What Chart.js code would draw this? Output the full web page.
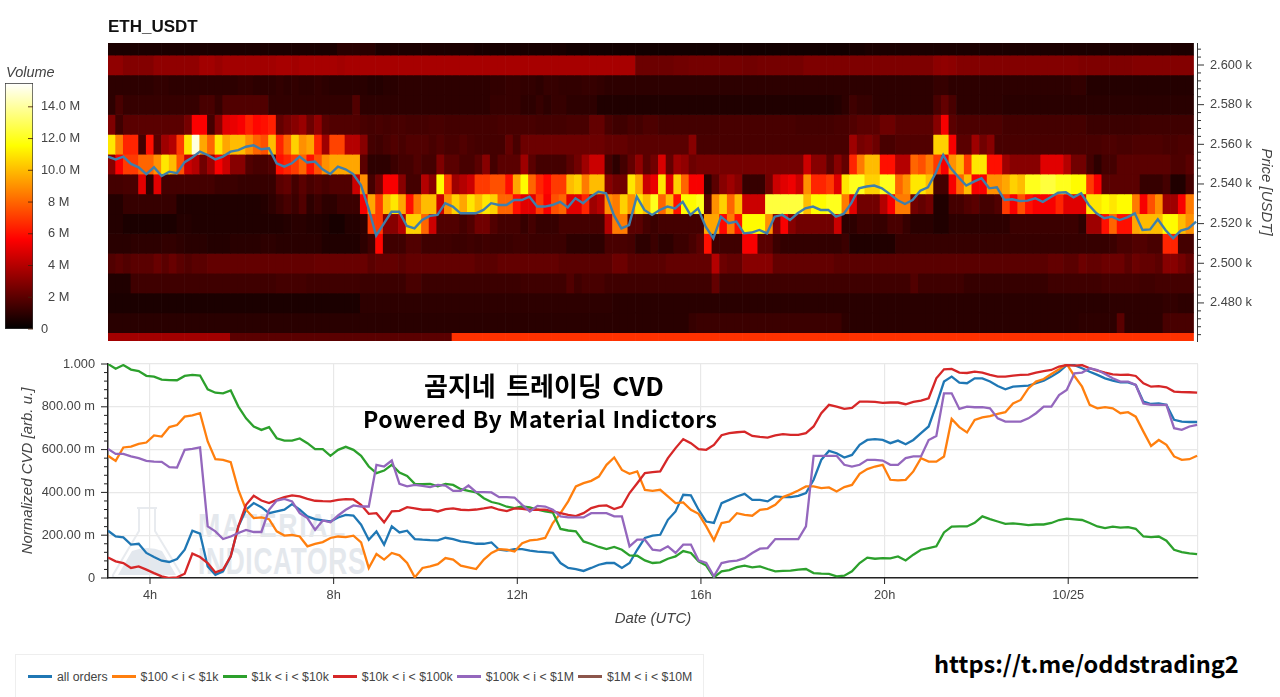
<!DOCTYPE html>
<html>
<head>
<meta charset="utf-8">
<title>ETH_USDT</title>
<script src="https://cdn.jsdelivr.net/npm/chart.js@4"></script>
<style>
html, body { margin: 0; padding: 0; background: #fff; }
#page { position: relative; width: 1280px; height: 697px; overflow: hidden; font-family: "Liberation Sans", Arial, sans-serif; color: #444; }
canvas { position: absolute; }
.label { position: absolute; white-space: nowrap; }
#pairTitle { left: 108px; top: 17px; font-size: 17px; font-weight: bold; color: #111; }
#volumeTitle { left: 6px; top: 64px; font-size: 14.5px; font-style: italic; }
#overlayA { left: 424px; top: 366px; font: bold 26px "Noto Sans CJK KR"; color: #000; word-spacing: 4.5px; }
#overlayB { left: 363px; top: 401px; font: bold 23px "Noto Sans CJK KR"; color: #000; word-spacing: 1px; letter-spacing: .46px; }
#telegram { left: 934px; top: 646px; font: bold 23.6px "Noto Sans CJK KR"; color: #000; }
.wm { position: absolute; font-family: "Liberation Sans"; font-weight: bold; color: #e4e8ed; white-space: nowrap; transform-origin: left top; }
#legendBox { position: absolute; left: 15px; top: 654px; height: 43px; border: 1px solid #eee; border-bottom: none; display: flex; align-items: center; padding-left: 12px; box-sizing: content-box; font-size: 12.3px; width: 675px; }
#legendBox .swatch { width: 24px; height: 3px; margin-right: 5px; flex: none; }
#legendBox .name { margin-right: 4px; white-space: nowrap; }
</style>
</head>
<body>
<div id="page">
  <svg style="position:absolute;left:108px;top:505px" width="80" height="75">
    <path d="M29 3 H49 M31 3 V26 L5 70 Q4 73 9 73 H70 Q75 73 73 69 L47 26 V3" fill="none" stroke="#e8ebef" stroke-width="2"/>
    <path d="M10 70 L24 46 Q40 40 54 46 L68 70 Z" fill="#e3e8ee"/>
  </svg>
  <div class="wm" style="left:198px;top:507px;font-size:33px;letter-spacing:2px;transform:scaleX(.81)">MATERIAL</div>
  <div class="wm" style="left:198px;top:541px;font-size:37px;letter-spacing:1px;transform:scaleX(.71)">INDICATORS</div>

  <canvas id="heatmap" style="left:0;top:0"></canvas>
  <canvas id="colorbar" style="left:0;top:60px"></canvas>
  <canvas id="cvd" style="left:0;top:350px"></canvas>

  <div class="label" id="pairTitle">ETH_USDT</div>
  <div class="label" id="volumeTitle">Volume</div>
  <div class="label" id="overlayA">곰지네 트레이딩 CVD</div>
  <div class="label" id="overlayB">Powered By Material Indictors</div>
  <div class="label" id="telegram">https://t.me/oddstrading2</div>
  <div id="legendBox"></div>
</div>

<script>
// Tick values
const priceTicks = [2480, 2500, 2520, 2540, 2560, 2580, 2600];
const volumeTicks = [0, 2, 4, 6, 8, 10, 12, 14];
const volumeTickLabels = ['0', '  2 M', '  4 M', '  6 M', '  8 M', '10.0 M', '12.0 M', '14.0 M'];
const hourTicks = [4, 8, 12, 16, 20, 24];
const hourTickLabels = ['4h', '8h', '12h', '16h', '20h', '10/25'];
const cvdTicks = [0, 200, 400, 600, 800, 1000];

const seriesNames = ['all orders', '$100 < i < $1k', '$1k < i < $10k', '$10k < i < $100k', '$100k < i < $1M', '$1M < i < $10M'];
const seriesColors = ['#1f77b4', '#ff7f0e', '#2ca02c', '#d62728', '#9467bd', '#8c564b'];

// Price line, one value per 10 minutes
const priceLine = [
  2553.8,2552.4,2553.8,2550.1,2548.4,2545,2548.4,2544,2546.2,2545.4,
  2551,2553.4,2556.3,2554.6,2552.4,2553.8,2556.3,2557.1,2558.8,2559.5,
  2557.5,2558,2550.4,2548.7,2550.4,2553.8,2550.8,2551.3,2547.4,2545,
  2548.7,2547.4,2545,2539.5,2527.7,2514,2520,2526,2526,2518.8,
  2517.6,2521.8,2523.9,2524.4,2530.3,2528.6,2525.2,2525.2,2525.2,2526.9,
  2530.3,2529.4,2529.4,2531.9,2531.9,2533.6,2528.6,2528.6,2529.4,2531,
  2528.2,2532.8,2530.3,2533.6,2536.1,2535.3,2524.4,2517.6,2519.3,2533.6,
  2526.9,2524.4,2526.9,2528.6,2527.7,2531,2524.4,2527.7,2518.5,2512.6,
  2523.5,2520.2,2521,2515.1,2515.5,2516.8,2515.1,2523.5,2524.4,2521.8,
  2525.2,2527.7,2528.6,2526.9,2526.9,2523.5,2524.9,2530.3,2537.8,2538.7,
  2539.2,2537.8,2535,2531.9,2529.9,2531.9,2536.6,2538.3,2545.4,2554.6,
  2547.9,2543.4,2539.2,2541.2,2542.9,2537.8,2538.3,2531.9,2532.3,2531.4,
  2531.6,2532.8,2531,2533.3,2535.6,2535.8,2533.3,2535.3,2529.4,2525.2,
  2522.7,2523.5,2521.8,2523.2,2525.2,2516.8,2517.1,2522.2,2516.8,2512.6,
  2516.5,2517.6,2521
];

// Normalized CVD (milli units), one value per 10 minutes
const cvdAll = [
  221,194,190,156,160,117,98,81,75,89,
  132,221,207,54,15,31,101,241,319,350,
  331,303,311,319,345,319,288,275,269,264,
  283,295,292,249,179,218,156,241,213,221,
  182,179,177,176,188,182,171,166,160,160,
  166,132,128,135,135,128,123,121,117,70,
  47,42,33,47,62,70,70,47,70,132,
  187,198,202,272,311,389,386,319,264,257,
  350,365,381,393,365,365,358,381,378,378,
  384,397,459,552,594,583,563,575,622,645,
  649,645,630,642,625,645,677,708,809,918,
  941,913,910,933,933,918,897,882,894,897,
  899,910,922,941,964,995,995,980,964,949,
  933,922,914,914,902,824,813,816,809,739,
  731,729,729
];
const cvd100to1k = [
  571,547,610,614,627,633,666,661,705,715,
  754,760,770,638,555,552,541,412,319,280,
  283,275,218,198,201,194,148,159,168,187,
  194,191,198,166,47,112,86,117,106,70,
  3,47,54,65,93,86,58,50,42,86,
  117,135,132,124,163,176,179,187,257,303,
  358,428,443,454,474,529,563,505,487,498,
  412,407,412,381,350,353,319,300,241,176,
  257,264,303,295,291,319,323,342,378,392,
  409,428,428,420,423,404,425,435,487,509,
  521,529,459,456,459,498,560,544,544,568,
  743,705,680,739,751,756,767,775,816,832,
  886,918,930,953,975,1000,944,894,809,793,
  798,793,770,775,754,684,617,645,622,568,
  552,555,571
];
const cvd1kto10k = [
  1000,978,995,974,967,945,941,927,925,924,
  944,949,946,882,866,863,876,801,746,708,
  692,705,653,642,642,652,630,602,602,571,
  599,613,599,571,521,490,502,529,493,477,
  440,439,440,428,440,435,415,407,400,373,
  355,347,333,327,334,330,319,311,306,229,
  222,218,171,159,145,135,145,132,106,104,
  82,70,73,90,101,126,117,78,58,3,
  31,37,51,58,50,54,42,31,33,34,
  39,42,23,20,19,8,11,31,70,95,
  90,93,92,101,82,109,132,140,148,213,
  240,241,241,258,288,275,264,253,255,252,
  247,250,250,257,271,277,274,271,257,241,
  233,240,235,238,230,194,191,194,174,132,
  121,115,112
];
const cvd10kto100k = [
  96,78,70,47,54,39,23,8,0,3,
  20,114,98,70,26,39,101,241,342,384,
  362,350,365,378,386,381,370,361,359,358,
  365,369,367,342,300,303,260,311,314,331,
  325,319,319,311,322,325,319,317,320,325,
  331,319,313,325,323,319,319,319,311,303,
  295,289,303,327,337,339,322,334,397,443,
  490,495,498,560,607,649,630,602,599,622,
  667,677,681,684,664,659,656,666,672,669,
  669,677,708,770,809,801,790,795,824,824,
  823,818,820,820,812,823,829,840,933,975,
  977,960,958,964,960,949,941,941,946,949,
  950,960,967,972,988,995,992,995,980,969,
  960,952,949,950,944,910,894,897,891,871,
  869,868,866
];
const cvd100kto1M = [
  603,580,580,568,560,547,544,543,518,516,
  599,603,610,241,218,182,194,210,225,215,
  215,319,362,370,358,303,280,225,269,260,
  292,319,339,334,334,529,521,549,440,428,
  435,431,425,435,432,407,407,432,401,401,
  400,378,378,376,342,311,337,334,319,288,
  283,283,283,303,303,303,288,288,148,179,
  179,132,128,148,117,156,156,82,70,8,
  70,78,81,93,117,137,140,182,182,182,
  182,241,571,571,571,571,529,521,529,552,
  552,549,529,529,560,568,568,645,664,863,
  863,790,801,798,798,793,746,731,731,731,
  746,770,801,801,855,879,956,960,980,972,
  953,933,918,918,902,816,809,809,809,700,
  692,708,715
];
const cvd1Mto10M = [];

// Heatmap volume (M) per price bin, 142 columns of 10 minutes, 20 per line
const vol2610 = [
  .6,.6,.6,.6,.6,.6,.6,.6,.6,.6,.6,.6,.6,.6,.6,.6,.6,.6,.6,.6,
  .6,.6,.6,.6,.6,.6,.6,.6,.6,.6,.9,.9,.9,.9,.9,.6,.6,.6,.6,.6,
  .6,.6,.6,.6,.6,.6,.6,.6,.5,.5,.5,.5,.5,.5,.5,.5,.5,.5,.5,.5,
  .4,.4,.4,.4,.4,.4,.4,.4,.4,.4,.4,.4,.4,.4,.4,.4,.4,.4,.4,.4,
  .4,.4,.4,.4,.4,.4,.4,.4,.4,.4,.4,.4,.4,.4,.4,.4,.4,.5,.5,.6,
  .6,.6,.6,.6,.6,.6,.6,.6,.6,.6,.6,.6,.6,.6,.6,.6,.6,.6,.6,.6,
  .6,.6,.6,.6,.6,.6,.6,.6,.6,.6,.6,.6,.6,.6,.6,.6,.6,.6,.6,.6,
  .6,.6
];
const vol2600 = [
  3.2,3.2,2.9,2.9,2.9,2.9,3.2,3.2,3.2,3.2,3.2,3.2,3.6,3.6,3.4,3.6,3.6,3.6,3.6,3.6,
  3.6,3.6,3.7,3.7,3.6,3.7,3.7,3.7,3.7,3.7,3.6,3.7,3.7,3.7,3.7,3.7,3.7,3.7,3.7,3.7,
  3.7,3.7,3.7,3.7,3.7,3.7,3.7,3.7,3.7,3.7,3.7,3.7,3.7,3.7,3.7,3.7,3.7,3.7,3.7,3.7,
  3.7,3.7,3.7,3.7,3.7,3.7,3.7,3.7,3.7,2.4,2.4,2.4,2.4,2.4,2.5,2.5,2.6,2.6,2.6,2.6,
  2.6,2.6,2.6,2.5,2.5,2.6,2.6,2.6,2.6,2.6,2.6,2.8,2.8,2.8,2.8,2.8,2.8,2.8,2.8,2.8,
  2.8,2.8,2.8,2.8,2.8,2.8,2.8,2.8,3.1,3.2,3.1,2.9,2.9,2.9,2.9,2.9,2.9,2.9,2.9,2.9,
  2.9,2.9,2.9,2.9,2.9,2.9,2.9,2.8,2.8,2.8,2.8,2.8,2.8,2.8,2.9,2.9,2.9,2.9,2.9,2.9,
  2.9,2.9
];
const vol2590 = [
  1,1,1,1,1,1,1.1,1.1,1,1,1,1,1,1,1,1,1,1.1,1.1,1,
  1,1,1.1,1,1.1,1,1,1.1,1,.9,.9,.9,.9,.9,.8,.8,.9,.9,1,1,
  1,1,1,1,1,1,1,1,1,1,1.1,1.1,1.2,1.2,1.1,1.1,1,1.2,1.2,1.1,
  1.1,1.1,1.2,1.2,1.1,1,1,1,1,1,1,1,1,1,1,1,1,1,1,1,
  1,1,1,1,1,1,1,1,1,1,1,1,1,1,1,1,1,1,1,1,
  1,1,1,1,1,1,1,1,1.2,1.2,1,1,1,1,1,1,1,1,1,1,
  1,1,1,1,1,1,1.1,1.1,.8,.8,.8,.8,.8,.8,.8,.8,.8,.8,.8,.8,
  .8,.8
];
const vol2580 = [
  1,1.6,1.2,1.2,1.2,1.2,1.2,1.2,1.2,1.2,1.2,1.2,1.6,1.6,1.2,1.8,1.8,1.8,1.8,1.8,
  1.8,1.1,1.1,1.1,1.1,1.1,1.1,1.1,1.1,1.1,1.1,1.1,1.8,1,1,1,1,1,1,1,
  1,1,1,1,1,1,1,1,1,1,1.2,1.2,1.2,1.2,1,1,1.2,1,1.2,1.2,
  1,1,1,1,.7,.7,.7,.7,.7,.7,.7,.7,.7,.7,.7,.7,.7,.7,.7,.7,
  .7,.7,.7,.7,.7,.7,.7,.7,.7,.7,.7,.7,.7,.7,.7,.8,1,1.4,1.2,1.2,
  1,1,1,1,1,1,1,1,1.6,2.2,1.6,1,1,1,1,1,1,.9,.9,.9,
  .9,.9,.9,.9,.9,.9,.9,.9,.9,.9,.9,.9,.9,.9,.9,.9,.9,.9,.9,.9,
  .9,.9
];
const vol2570 = [
  2.8,1.4,2,2,2,2,2,2,2,2,2.6,5.6,5.6,1.5,3,5,5.2,5.5,6.4,5.8,
  6,6.4,2.2,2.6,3,3.4,2.4,3.2,2,1.8,1.8,1.8,1.8,1.6,1.5,1.6,1.5,1.6,1.6,1.5,
  1.5,1.5,1.6,1.6,1.5,1.5,1.5,1.5,1.5,1.5,1.5,1.6,1.6,1.6,1.6,1.6,1.5,1.5,1.5,1.5,
  1.6,1.6,1.6,2.2,2.2,1.6,1.4,1.4,1.6,1.5,1.7,1.7,1.5,1.5,1.5,1.5,1.5,1.5,1.5,1.5,
  1.6,1.6,1.6,1.6,1.6,1.6,1.6,1.6,1.6,1.6,1.5,1.5,1.5,1.5,1.5,1.6,1.6,1.8,2,2,
  2,2.4,2.4,2,2,2,2,2,3,5.5,2,1.7,1.7,1.7,1.7,1.7,1.7,1.5,1.5,1.5,
  1.5,1.5,1.5,1.5,1.5,1.5,1.5,1.5,1.3,1.3,1.3,1.3,1.3,1.3,1.3,1.4,1.4,1.4,1.4,1.4,
  1.4,1.4
];
const vol2560 = [
  11,8.6,6.5,6.5,1.5,6,2,3.5,4,7,11,15,9.5,8,11,9.5,10,10,9,8,
  7.5,10,6.5,8,10.5,9,9.5,6.5,3.5,7.2,7.2,4,4,3,1.5,1.4,1.6,1.8,1.6,1.8,
  1.8,1.8,1.6,1.8,1.6,1.6,1.8,1.6,1.5,1.5,1.5,1.5,2.2,1.6,2.4,2.4,2.4,2.4,2.4,2.4,
  2.4,2.4,2.4,2.4,2.4,2.2,2.2,2.2,2,2,2,2,2,2,2,2,3,1.6,1.6,1.6,
  1.6,1.6,1.6,1.6,1.6,1.6,1.6,1.6,1.6,1.6,1.6,1.6,1.6,1.6,1.6,1.6,1.6,3.5,2.6,2.8,
  2.4,1.6,1.6,1.8,1.8,1.8,1.8,1.8,10.5,10.5,5.5,2,2,3.5,2.5,3,1.6,1.6,1.6,1.6,
  1.6,1.6,1.6,1.6,1.6,1.6,1.6,1.6,1.6,1.6,1.7,1.7,1.6,1.6,1.7,1.7,1.7,1.7,1.6,1.6,
  1.7,1.7
];
const vol2550 = [
  3,5.5,7,7,8,8,9,11,10,7.5,4.5,4,2.5,3.5,5.5,4.5,3,3,1.8,1.6,
  1.6,1.8,6,6.5,7,8,6,7.5,9,9.5,9.5,9.5,9.5,2,1,1,1,1.3,1.5,1.5,
  1.8,1.5,1.5,2.8,2,2,1.6,1.6,2,3,1.5,2,2,2,3.5,2,1.5,1.5,1.5,1.5,
  2,2.5,3.5,4.5,4.5,1.5,1,1.5,2.2,3.2,2,2.5,4.8,2.2,3.5,3.2,2.4,2.6,2.6,2.6,
  2.6,2.6,2.6,2.6,2.6,2.6,2.6,2.6,2.6,2.6,2.6,4.5,3,3,2,3,2.2,6.5,8.5,10,
  10,6,6,4,4,8,7.5,8.5,7,5.5,9,10,7,11,11,6,6,3.5,3,3,
  3,3,5,5,5,4,2.5,2.5,1.5,1,1.5,1.5,2,2,2,2,2,2,2,1.7,
  1.7,2
];
const vol2540 = [
  1.5,1.5,1.6,1.6,5,1,5,1.5,1.5,1.5,1.5,1.5,1.5,1.5,1.3,1.3,1.3,1.2,1.2,1.2,
  1.2,1.2,2,2.2,1.5,2,1.6,1.8,1.6,1.8,1.8,1.8,4.5,9,1.5,2.5,5.5,5.5,3,1.5,
  1.5,4,3,11.5,7,3.5,4,4.5,7,7,7.5,7.5,6,9.5,11.5,8,6.5,5.8,7,7,
  10,10.5,8.5,10,10,3,2.5,2.5,11,9.5,4.5,5.2,11,5,10.5,8,5.5,5.5,1,2,
  3,3.5,3,1.2,1.2,1.2,2.5,4.5,5,5.3,4.5,9,6.5,6.5,7,5,11,12,12,10.5,
  10.5,12,12,8,9,11,11,10,1.5,1.5,5.5,8,10,5.5,5.5,9,9,9.5,10.5,10,
  12,12,12.5,12.5,12,12,11.5,11.5,7,5.5,2,2,2,2,2,1.2,1.2,1.2,1.5,.7,
  .7,1.5
];
const vol2530 = [
  .8,.8,1.2,1.2,1.2,1.2,1.2,1.2,1.2,.7,.7,.7,.7,.7,.7,.7,.7,.7,.7,.7,
  .8,1,1.3,1.6,1.3,1.8,1,1.3,1,1,1.3,1.3,1.3,5.5,9.5,7,10,11,9.5,6,
  8.5,10,10,4.5,9,10.5,9.5,11,10,11,10.5,8,8,6,5,5,7,5.5,7.5,8,
  5,5,6.5,3.5,4,9,8.5,10.5,9,11,10,12,8,10,6,11.5,11.5,12,2,9,
  10.5,8,10,4.5,4.5,4.5,12.5,12.5,12.5,12.5,12.5,10,11.5,11.5,12,12,8.5,5,2.5,2.5,
  2.5,4,5.5,8.5,8.5,2.5,2.2,2.5,.7,.7,1.5,1.5,1.8,2,1.5,1.5,1.8,7,5.5,7.5,
  6,5.5,5.5,5.5,6.5,5,5,5,11,11,11.5,11,11.5,11.5,8.5,5.5,7.5,9,3.5,3.5,
  5.5,8.5
];
const vol2520 = [
  .8,.8,.6,.6,.6,.6,.6,.6,.6,.8,.8,.7,.7,.7,.7,.7,.7,.7,.7,.7,
  .7,.7,.7,.8,.9,.9,.8,.8,.7,.5,.5,.8,.8,1,7,7,3,3,4,10.5,
  10.5,8,4.5,1.8,1.8,1.8,1.5,1.8,2.5,2.5,1.8,1.5,1.5,1.5,1.2,1.5,1.2,1.2,1.2,1.5,
  1.5,1.5,1.5,1.5,1.5,4,8.5,8.5,2,2,1.5,1.3,1.5,1.5,1.5,1.5,1.5,1.5,9.5,9.5,
  5.8,8.5,6,11.5,11.5,11.5,9,3,5.5,3,2.5,2.5,2.5,2.5,2.5,4.5,1,1,1.3,1.3,
  1.2,1.2,1.6,1.6,1.2,.9,.9,.9,.7,.7,1,1,1,1,1,1,1,1,1.3,1.3,
  1.3,1.3,1.3,1.3,1.3,1.3,1.3,1,3.5,3.5,6,8,6,6,9.5,10,10,10,11.5,11.5,
  10,9
];
const vol2510 = [
  .9,.9,.9,1,1,1,1,1.1,1.1,1,.9,.9,.9,.8,.8,.8,.9,.9,.9,.9,
  1,1,.9,.9,.9,.9,.9,.9,.7,.7,.7,.7,.7,1,1.4,5.8,1.4,1.4,1.4,1.8,
  1.8,1.4,1.4,1.4,1.4,1.3,1.3,1.4,1.3,1.4,1.3,1.3,1.3,1.4,1.4,1.3,1.3,1.3,1.3,1.3,
  1,1,1,1,1,1.6,1.6,1.6,1.5,1,1,1.3,1,1,1.3,1.3,1.6,2,6,1.4,
  1.4,1.4,1.4,5.5,5.5,2,2,1.3,1.1,1.1,1.1,1.1,1.1,1.1,1.1,1.1,1.3,.7,.7,.7,
  .7,.7,.7,1.2,1.2,1.2,1.2,1.2,1.2,1.2,1.2,1.2,1.2,1.2,1.2,1.2,1.2,1.2,1.2,1.2,
  1.2,1.2,1.2,1.2,1.2,1.2,1.2,1.2,1.2,1.2,1.2,1.3,1.6,1.6,1.8,1.8,1.6,1.6,6.5,6.5,
  1.5,1.5
];
const vol2500 = [
  1.8,2,1.8,2,2,2,2.3,2,2.3,2,1.8,2,2,2.2,2.2,2.2,2.2,2.2,2.2,2.2,
  2.2,2.2,2.2,2.2,2.2,2.2,2.2,2.3,2.3,2.3,2.3,2.3,2.3,2.3,2,2.2,2.2,2.2,2,2.2,
  2.2,2.2,2.2,2.2,2.2,2.2,2.2,2.2,2,2,2,2.2,2.2,2.2,2.2,2.2,2.2,2.2,2.2,2,
  2,2,2,2,2,2,2.4,2.4,2,2,2,2,2,2.2,2.2,2.2,2.2,2.2,2.2,4,
  2.4,2.2,2.2,3,3,3,3,2.2,2.2,2.2,2.2,2.2,2.2,2.2,2.2,2,2,2,2,2,
  2,2,2,2,2,2,2,2,2,2,2,2,2,2,2,2,2,2,2,2,
  2,2,2,2.2,2.2,2,2,2.4,2.2,2.2,2.4,2.4,2.4,2,2.4,2.2,2.2,2,3,3,
  2.6,2.2
];
const vol2490 = [
  .7,.7,.7,1.4,1.4,1.4,1.4,1.4,1.4,1.4,1.4,1.4,1.4,1.4,1.4,1.4,1.4,1.4,1.4,1.4,
  1.4,1.4,1.5,1.5,1.5,1.5,1.4,1.4,1.4,1.4,1.4,1.4,1.4,1.3,1.3,1.3,1.3,1.3,1.3,1.6,
  1.6,1.3,1.3,1.3,1.3,1.3,1.3,1.3,1.3,1.3,1.3,1.3,1.3,1.3,1.4,1.4,1.4,1.4,1.4,1.4,
  1.8,1.4,1.6,1.6,1.6,1.4,1.4,1.4,1.4,1.4,1.4,1.4,1.4,1.4,1.4,1.4,1.4,1.4,1.4,2.2,
  1.4,1.4,1.4,1.4,1.4,1.4,1.4,1.4,1.4,1.4,1.4,1.4,1.4,1.4,1.4,1.4,1.4,1.4,1.4,1.4,
  1.4,1.4,1.4,1.4,1.4,1.8,1.4,1.4,1.4,1.4,1.4,1.4,1.2,1.2,1.2,1.2,1.2,1.2,1.2,1.2,
  1.2,1.2,1.2,1.4,1.4,1.4,1.4,1.4,1.4,1.4,1.5,1.5,1.5,1.5,1.5,1.4,1.4,1.5,1.5,1.5,
  1.5,1.5
];
const vol2480 = [
  .6,.6,.6,.6,.6,.6,.6,.6,.6,.6,.6,.6,.6,.6,.6,.6,.6,.6,.6,.6,
  .6,.6,.6,.6,.6,.6,.6,.6,.6,.6,.6,.6,.6,1,1,1,1,1,1,1,
  1,1,1,1,1,1,1,1,1,1,1,1,1,1,1,1,1,1,1,1,
  1,1,1,1,1,1,.9,.9,.9,.9,.9,.9,.9,.9,.9,.9,.9,.9,.9,.9,
  .9,.9,.9,.9,.9,.9,.9,.9,.9,.9,.9,.9,.9,.9,.9,.9,.9,.9,.9,.9,
  .9,.9,.9,.9,.9,.9,.9,.9,.9,.9,.9,.9,.9,.9,.9,.9,.9,.9,.9,.9,
  .9,.9,.9,.9,.9,.9,.9,.9,.9,.9,.9,1,1,1,1,1,1,1,1.1,1.1,
  1,1
];
const vol2470 = [
  .9,.9,.9,.9,.9,.9,.9,.9,.9,.9,.9,.9,.9,.9,.9,.9,.9,.9,.9,.9,
  .9,.9,.9,.9,.9,.9,.9,.9,.9,.9,.9,.9,.9,.9,.9,.9,.9,.9,.9,.9,
  .9,.9,.9,.9,.9,.9,.9,.9,.9,.9,.9,.9,.9,.9,.9,.9,.9,.9,.9,.9,
  .9,.9,.9,.9,.9,.9,.9,.9,.9,.9,.9,.9,.9,.9,.9,.9,1.2,1.3,1.3,1.3,
  1.3,1.3,1.3,1.3,1.3,1.3,1.3,1.3,1.3,1.3,1.3,1.3,1.3,1.3,1.3,1.3,1,.9,.9,.9,
  .9,.9,.9,.9,.9,.9,.9,.9,.9,.9,.9,.9,.9,.9,.9,.9,.9,.9,.9,.9,
  .9,.9,.9,.9,.9,.9,.9,1,1,1,1,1,2,1,1,1,1,1,1.6,1.6,
  1.6,1.6
];
const vol2460 = [
  3.6,3.6,3.6,3.6,3.6,3.6,3.6,3.6,3.6,3.6,3.6,3.6,3.6,3.6,3.6,3.6,2,2,2,2,
  2,2,2,2,2,2,2,2,2,2,2,2,2,2,2,2,2,2,2,2,
  2,2,2,2,2,6.8,6.8,6.8,6.8,6.8,6.8,6.8,6.8,6.8,6.8,6.8,6.8,6.8,6.8,6.8,
  6.8,6.8,6.8,6.8,6.8,6.8,6.8,6.8,6.8,6.8,6.8,6.8,6.8,6.8,6.8,6.8,6.8,6.8,6.8,6.8,
  6.8,6.8,6.8,6.8,6.8,6.8,6.8,6.8,6.8,6.8,6.8,6.8,6.8,6.8,6.8,6.8,6.8,6.8,6.8,6.8,
  6.8,6.8,6.8,6.8,6.8,6.8,6.8,6.8,6.8,6.8,6.8,6.8,6.8,6.8,6.8,6.8,6.8,6.8,6.8,6.8,
  6.8,6.8,6.8,6.8,6.8,6.8,6.8,6.8,6.8,6.8,6.8,6.8,6.8,6.8,6.8,6.8,6.8,6.8,6.8,6.8,
  6.8,6.8
];

const priceBins = [2610, 2600, 2590, 2580, 2570, 2560, 2550, 2540, 2530, 2520, 2510, 2500, 2490, 2480, 2470, 2460];
const volumeRows = [vol2610, vol2600, vol2590, vol2580, vol2570, vol2560, vol2550, vol2540, vol2530, vol2520, vol2510, vol2500, vol2490, vol2480, vol2470, vol2460];

const HOUR_MIN = 3.085, HOUR_MAX = 26.827;
const VOLUME_MAX = 15.5;
const textColor = '#444';
const tickFont = { family: '"Liberation Sans", Arial', size: 12.8 };
const axisTitleFont = { family: '"Liberation Sans", Arial', size: 15, style: 'italic' };

Chart.defaults.animation = false;
Chart.defaults.color = textColor;
Chart.defaults.plugins.legend.display = false;
Chart.defaults.plugins.tooltip.enabled = false;
Chart.defaults.responsive = false;

// Hot colormap
function volumeColor(v) {
  const t = Math.min(v / VOLUME_MAX, 1);
  const r = Math.min(t / 0.365, 1);
  const g = Math.max(Math.min((t - 0.365) / 0.381, 1), 0);
  const b = Math.max((t - 0.746) / 0.254, 0);
  return `rgb(${Math.round(r * 255)},${Math.round(g * 255)},${Math.round(b * 255)})`;
}

// Bokeh style ticks, major and minor, placed with the scale
function tickMarks(marks) {
  return {
    id: 'tickMarks',
    afterDraw(chart) {
      const ctx = chart.ctx;
      ctx.save();
      marks.forEach(m => {
        const scale = chart.scales[m.axis];
        ctx.strokeStyle = m.color;
        ctx.lineWidth = 1;
        const first = Math.ceil(scale.min / m.minorStep) * m.minorStep;
        for (let v = first; v <= scale.max; v += m.minorStep) {
          const len = v % m.majorStep === 0 ? m.majorLen : m.minorLen;
          const p = scale.getPixelForValue(v);
          ctx.beginPath();
          if (m.side === 'right') { ctx.moveTo(scale.left, p); ctx.lineTo(scale.left + len, p); }
          if (m.side === 'left') { ctx.moveTo(scale.right, p); ctx.lineTo(scale.right - len, p); }
          if (m.side === 'bottom') { ctx.moveTo(p, scale.top); ctx.lineTo(p, scale.top + len); }
          if (m.side === 'inner') { ctx.moveTo(chart.chartArea.right, p); ctx.lineTo(chart.chartArea.right - len, p); }
          ctx.stroke();
        }
      });
      ctx.restore();
    }
  };
}

// Fixed axis box, without the room Chart.js keeps for the end labels
function fixBox(size) {
  return s => {
    if (s.isHorizontal()) s.height = size; else s.width = size;
    s.paddingTop = s.paddingBottom = s.paddingLeft = s.paddingRight = 0;
  };
}

function makeCanvas(id, w, h) {
  const c = document.getElementById(id);
  c.width = w; c.height = h;
  return c;
}

// Heatmap with the price line on top
const columnHours = vol2600.map((_, i) => HOUR_MIN + (i + 0.5) / 6);
const sampleHours = priceLine.map((_, i) => HOUR_MIN + i * 0.16706);

new Chart(makeCanvas('heatmap', 1280, 350), {
  type: 'bar',
  data: {
    datasets: [
      {
        type: 'line',
        data: priceLine.map((y, i) => ({ x: sampleHours[i], y })),
        borderColor: '#3f7fab',
        borderWidth: 2.4,
        pointRadius: 0,
        order: 0
      },
      ...volumeRows.map((row, r) => ({
        data: row.map((v, i) => ({ x: columnHours[i], y: [priceBins[r] - 5, priceBins[r] + 5] })),
        backgroundColor: row.map(volumeColor),
        borderWidth: 0,
        grouped: false,
        barPercentage: 1,
        categoryPercentage: 1,
        order: 1
      }))
    ]
  },
  options: {
    layout: { padding: { left: 108, top: 43, bottom: 9 } },
    scales: {
      x: { type: 'linear', min: HOUR_MIN, max: HOUR_MAX, offset: false, display: false },
      y: {
        position: 'right',
        min: 2460.8,
        max: 2611.1,
        afterFit: fixBox(83),
        afterBuildTicks: s => { s.ticks = priceTicks.map(value => ({ value })); },
        grid: { display: false, drawTicks: false },
        border: { display: true, color: '#333', width: 1 },
        ticks: { padding: 13, font: tickFont, color: textColor, callback: v => `${(v / 1000).toFixed(3)} k` },
        title: { display: true, text: 'Price [USDT]', font: axisTitleFont, color: textColor, padding: { top: 5, bottom: 0 } }
      }
    }
  },
  plugins: [tickMarks([{ axis: 'y', side: 'right', minorStep: 4, majorStep: 20, majorLen: 7, minorLen: 4, color: '#333' }])]
});

// Volume colorbar
new Chart(makeCanvas('colorbar', 110, 280), {
  type: 'bar',
  data: {
    labels: ['Volume'],
    datasets: [{
      data: [[0, VOLUME_MAX]],
      barPercentage: 1,
      categoryPercentage: 1,
      borderColor: '#333',
      borderWidth: 1,
      borderSkipped: false,
      backgroundColor(ctx) {
        const area = ctx.chart.chartArea;
        if (!area) return '#000';
        const g = ctx.chart.ctx.createLinearGradient(0, area.bottom, 0, area.top);
        g.addColorStop(0, '#000');
        g.addColorStop(0.365, '#f00');
        g.addColorStop(0.746, '#ff0');
        g.addColorStop(1, '#fff');
        return g;
      }
    }]
  },
  options: {
    layout: { padding: { left: 5, top: 23, bottom: 11 } },
    scales: {
      x: { display: false },
      y: {
        position: 'right',
        min: 0,
        max: VOLUME_MAX,
        afterFit: fixBox(77),
        afterBuildTicks: s => { s.ticks = volumeTicks.map(value => ({ value })); },
        grid: { display: false, drawTicks: false },
        border: { display: false },
        ticks: {
          padding: 8,
          font: tickFont,
          color: textColor,
          callback: v => volumeTickLabels[volumeTicks.indexOf(v)]
        }
      }
    }
  },
  plugins: [tickMarks([{ axis: 'y', side: 'inner', minorStep: 2, majorStep: 2, majorLen: 5, minorLen: 5, color: 'rgba(70,30,10,.85)' }])]
});

// Normalized CVD
const cvdSeries = [cvdAll, cvd100to1k, cvd1kto10k, cvd10kto100k, cvd100kto1M, cvd1Mto10M];

new Chart(makeCanvas('cvd', 1280, 285), {
  type: 'line',
  data: {
    datasets: cvdSeries.map((values, s) => ({
      label: seriesNames[s],
      data: values.map((y, i) => ({ x: sampleHours[i], y })),
      borderColor: seriesColors[s],
      borderWidth: 2.3,
      pointRadius: 0,
      order: -s
    }))
  },
  options: {
    layout: { padding: { top: 14, right: 82 } },
    scales: {
      x: {
        type: 'linear',
        min: HOUR_MIN,
        max: HOUR_MAX,
        afterFit: fixBox(57),
        afterBuildTicks: s => { s.ticks = [...hourTicks, HOUR_MAX].map(value => ({ value })); },
        grid: { color: '#e8e8e8', lineWidth: 1.2, drawTicks: false },
        border: { display: true, color: '#222', width: 1.5 },
        ticks: {
          padding: 10,
          maxRotation: 0,
          autoSkip: false,
          font: tickFont,
          color: textColor,
          callback: v => hourTickLabels[hourTicks.indexOf(v)] || ''
        },
        title: { display: true, text: 'Date (UTC)', font: axisTitleFont, color: textColor, padding: { top: 0, bottom: 7 } }
      },
      y: {
        min: 0,
        max: 1000,
        afterFit: fixBox(108),
        afterBuildTicks: s => { s.ticks = cvdTicks.map(value => ({ value })); },
        grid: { color: '#e8e8e8', lineWidth: 1.2, drawTicks: false },
        border: { display: true, color: '#222', width: 1.5 },
        ticks: {
          padding: 13,
          font: tickFont,
          color: textColor,
          callback: v => (v === 1000 ? '1.000' : v === 0 ? '0' : `${v.toFixed(2)} m`)
        },
        title: { display: true, text: 'Normalized CVD [arb. u.]', font: axisTitleFont, color: textColor, padding: { top: 19, bottom: 0 } }
      }
    }
  },
  plugins: [tickMarks([
    { axis: 'y', side: 'left', minorStep: 40, majorStep: 200, majorLen: 7, minorLen: 4, color: '#222' },
    { axis: 'x', side: 'bottom', minorStep: 4, majorStep: 4, majorLen: 6, minorLen: 6, color: '#222' }
  ])]
});

// Legend
const legendBox = document.getElementById('legendBox');
seriesNames.forEach((name, s) => {
  const swatch = document.createElement('span');
  swatch.className = 'swatch';
  swatch.style.background = seriesColors[s];
  const label = document.createElement('span');
  label.className = 'name';
  label.textContent = name;
  legendBox.append(swatch, label);
});
</script>
</body>
</html>
